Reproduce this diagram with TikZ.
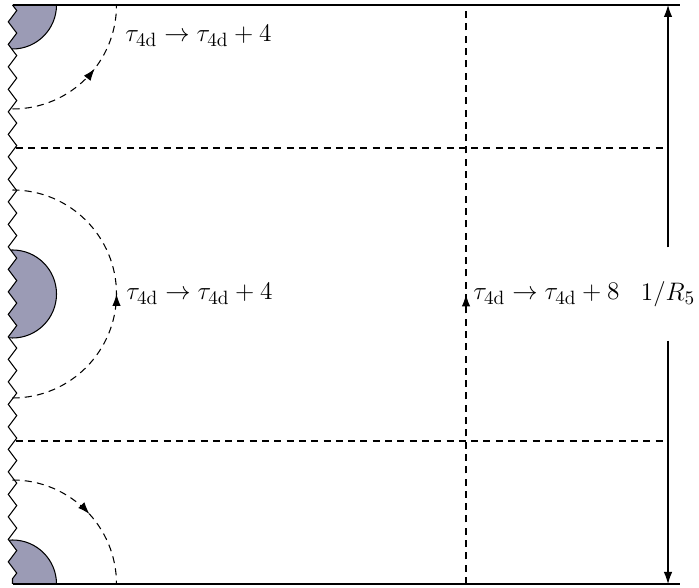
\documentclass[tikz,border=0pt]{standalone}
\usetikzlibrary{decorations.pathmorphing,decorations.markings,arrows.meta}
\definecolor{diskgray}{RGB}{155,155,181}

\tikzset{
  wall/.style={decorate,decoration={zigzag,segment length=4.5mm,amplitude=0.85mm}},
  cut/.style={dash pattern=on 4pt off 3pt},
  midarrow/.style={postaction={decorate,decoration={markings,
      mark=at position #1 with {\arrow{Latex[length=2.4mm,width=1.7mm]}}}}},
  shiftlabel/.style={anchor=west,fill=white,inner sep=1pt,
      font=\fontsize{15}{18}\selectfont}
}

\begin{document}
\begin{tikzpicture}[line width=0.6pt]
  \useasboundingbox (0,0) rectangle (13.98,11.76);

  % --- Parameters ---
  \def\xw{0.25}
  \def\xr{13.6}
  \def\ytop{11.66}
  \def\ymid{5.88}
  \def\ybot{0.08}
  \def\rdisk{0.88}
  \def\rloop{2.08}

  % --- Disks, cut off at the wall ---
  \begin{scope}
    \clip[decoration={zigzag,segment length=4.5mm,amplitude=0.85mm}]
         (\xw,\ytop) decorate {-- (\xw,\ybot)} -- (\xr,\ybot) -- (\xr,\ytop) -- cycle;
    \foreach \y in {\ytop,\ymid,\ybot}
      \filldraw[fill=diskgray] (\xw,\y) circle (\rdisk);
  \end{scope}

  % --- Boundaries ---
  \draw[wall] (\xw,\ytop) -- (\xw,\ybot);
  \draw (\xw,\ytop) -- (\xr,\ytop);
  \draw (\xw,\ybot) -- (\xr,\ybot);

  % --- Cuts ---
  \draw[cut] (0.32,8.8) -- (13.26,8.8);
  \draw[cut] (0.32,2.94) -- (13.26,2.94);
  \draw[cut,midarrow=0.5] (9.32,\ybot) -- (9.32,\ytop);

  % --- Loops round the disks ---
  \draw[cut,midarrow=0.58] (\xw,{\ytop-\rloop}) arc (-90:0:\rloop);
  \draw[cut,midarrow=0.5] (\xw,{\ymid-\rloop}) arc (-90:90:\rloop);
  \draw[cut,midarrow=0.53] (\xw,{\ybot+\rloop}) arc (90:0:\rloop);

  % --- Labels ---
  \node[shiftlabel] (shifttop) at (2.46,11.04)
       {$\tau_{\mathrm{4d}}\to\tau_{\mathrm{4d}}+4$};
  \node[shiftlabel] (shiftmid) at (2.48,\ymid)
       {$\tau_{\mathrm{4d}}\to\tau_{\mathrm{4d}}+4$};
  \node[shiftlabel] (shiftcut) at (9.42,\ymid)
       {$\tau_{\mathrm{4d}}\to\tau_{\mathrm{4d}}+8$};

  % --- Period ---
  \coordinate (rtop) at (13.36,\ytop);
  \coordinate (rbot) at (13.36,\ybot);
  \node[minimum height=1.84cm,inner sep=0pt,font=\fontsize{15}{18}\selectfont]
       (radius) at (13.36,\ymid) {$1/R_5$};
  \draw[-{Latex[length=2.4mm,width=1.7mm]}] (radius) -- (rtop);
  \draw[-{Latex[length=2.4mm,width=1.7mm]}] (radius) -- (rbot);
\end{tikzpicture}
\end{document}
